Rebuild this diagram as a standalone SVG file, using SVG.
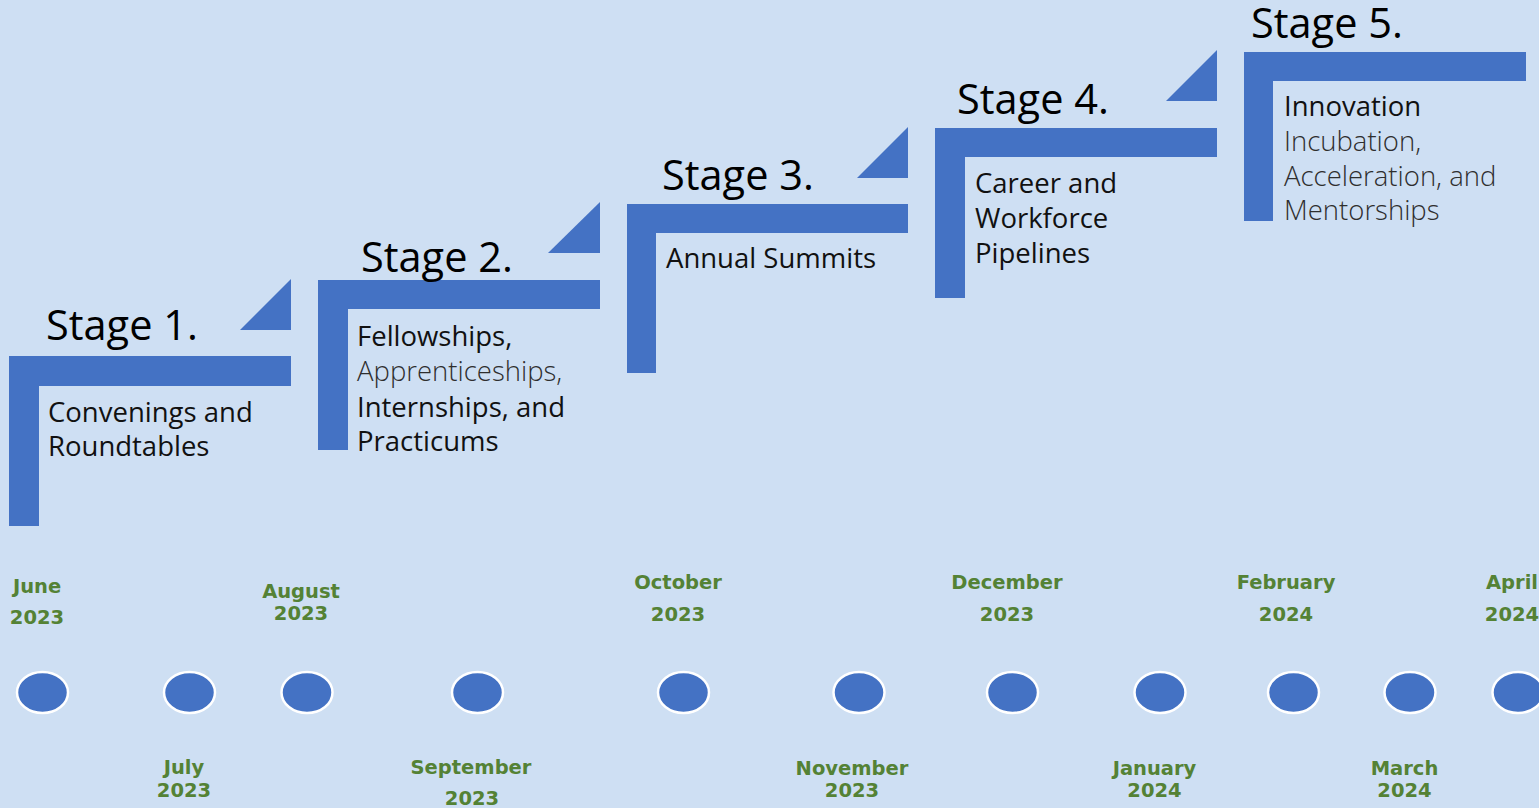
<svg xmlns="http://www.w3.org/2000/svg" width="1539" height="808" viewBox="0 0 1539 808">
<style>
.bar{fill:#4472c4}
.title{font-family:"Open Sans","Liberation Sans",sans-serif;font-size:41.5px;fill:#000}
.desc{font-family:"Open Sans","Liberation Sans",sans-serif;font-size:27.5px;fill:#111}
.lite{fill:#2e2e2e;font-weight:300}
.date{font-family:"DejaVu Sans","Liberation Sans",sans-serif;font-weight:bold;font-size:19.5px;fill:#548235;text-anchor:middle}
.dot{fill:#4472c4;stroke:#fff;stroke-width:2.5}
</style>
<rect width="1539" height="808" fill="#cedff3"/>
<g id="stage1">
<path class="bar" d="M9,356H291V386H39V526H9Z"/>
<path class="bar" d="M240,330L291,279V330Z"/>
<text class="title" x="46" y="340">Stage 1.</text>
<text class="desc" x="48" y="422">Convenings and</text>
<text class="desc" x="48" y="456">Roundtables</text>
</g>
<g id="stage2">
<path class="bar" d="M318,280H600V309H348V450H318Z"/>
<path class="bar" d="M548,253L600,202V253Z"/>
<text class="title" x="361" y="272">Stage 2.</text>
<text class="desc" x="357" y="346">Fellowships,</text>
<text class="desc lite" x="357" y="381">Apprenticeships,</text>
<text class="desc" x="357" y="417">Internships, and</text>
<text class="desc" x="357" y="451">Practicums</text>
</g>
<g id="stage3">
<path class="bar" d="M627,204H908V233H656V373H627Z"/>
<path class="bar" d="M857,178L908,127V178Z"/>
<text class="title" x="662" y="190">Stage 3.</text>
<text class="desc" x="666" y="268">Annual Summits</text>
</g>
<g id="stage4">
<path class="bar" d="M935,128H1217V157H965V298H935Z"/>
<path class="bar" d="M1166,101L1217,50V101Z"/>
<text class="title" x="957" y="114">Stage 4.</text>
<text class="desc" x="975" y="193">Career and</text>
<text class="desc" x="975" y="228">Workforce</text>
<text class="desc" x="975" y="263">Pipelines</text>
</g>
<g id="stage5">
<path class="bar" d="M1244,52H1526V81H1273V221H1244Z"/>
<text class="title" x="1251" y="38">Stage 5.</text>
<text class="desc" x="1284" y="116">Innovation</text>
<text class="desc lite" x="1284" y="151">Incubation,</text>
<text class="desc lite" x="1284" y="186">Acceleration, and</text>
<text class="desc lite" x="1284" y="220">Mentorships</text>
</g>
<g id="timeline">
<ellipse class="dot" cx="42.5" cy="692.5" rx="25.5" ry="20.5"/>
<ellipse class="dot" cx="189.5" cy="692.5" rx="25.5" ry="20.5"/>
<ellipse class="dot" cx="307" cy="692.5" rx="25.5" ry="20.5"/>
<ellipse class="dot" cx="477.5" cy="692.5" rx="25.5" ry="20.5"/>
<ellipse class="dot" cx="683.5" cy="692.5" rx="25.5" ry="20.5"/>
<ellipse class="dot" cx="859" cy="692.5" rx="25.5" ry="20.5"/>
<ellipse class="dot" cx="1012.5" cy="692.5" rx="25.5" ry="20.5"/>
<ellipse class="dot" cx="1160" cy="692.5" rx="25.5" ry="20.5"/>
<ellipse class="dot" cx="1293.5" cy="692.5" rx="25.5" ry="20.5"/>
<ellipse class="dot" cx="1410" cy="692.5" rx="25.5" ry="20.5"/>
<ellipse class="dot" cx="1518" cy="692.5" rx="25.5" ry="20.5"/>
</g>
<g id="dates">
<text class="date" x="37" y="593">June</text>
<text class="date" x="37" y="624">2023</text>
<text class="date" x="184" y="774">July</text>
<text class="date" x="184" y="797">2023</text>
<text class="date" x="301" y="598">August</text>
<text class="date" x="301" y="620">2023</text>
<text class="date" x="471" y="774">September</text>
<text class="date" x="472" y="805">2023</text>
<text class="date" x="678" y="589">October</text>
<text class="date" x="678" y="621">2023</text>
<text class="date" x="852" y="775">November</text>
<text class="date" x="852" y="797">2023</text>
<text class="date" x="1007" y="589">December</text>
<text class="date" x="1007" y="621">2023</text>
<text class="date" x="1154.5" y="775">January</text>
<text class="date" x="1154.5" y="797">2024</text>
<text class="date" x="1286" y="589">February</text>
<text class="date" x="1286" y="621">2024</text>
<text class="date" x="1404.5" y="775">March</text>
<text class="date" x="1404.5" y="797">2024</text>
<text class="date" x="1512" y="589">April</text>
<text class="date" x="1512" y="621">2024</text>
</g>
</svg>
